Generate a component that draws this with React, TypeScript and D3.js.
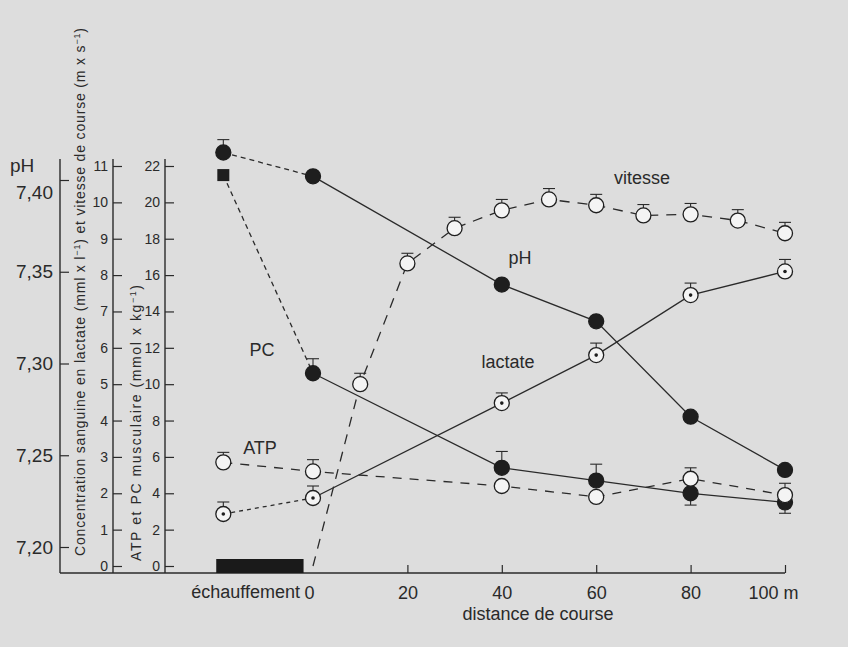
import * as React from 'react'
import * as d3 from 'd3'

// warm-up column sits left of 0 on the distance scale
const WARMUP = -19

const mainDistances = [WARMUP, 0, 40, 60, 80, 100]
const speedDistances = [0, 10, 20, 30, 40, 50, 60, 70, 80, 90, 100]

const phValues = [7.415, 7.402, 7.343, 7.323, 7.271, 7.242]
const phErrUp = [0.007, 0, 0, 0, 0, 0]

const pcValues = [21.5, 10.6, 5.4, 4.7, 4.0, 3.5]
const pcErrUp = [0, 0.8, 0.9, 0.9, 0, 0]
const pcErrDown = [0, 0, 0, 0, 0.65, 0.6]

const atpValues = [5.7, 5.2, 4.4, 3.8, 4.8, 3.9]
const atpErrUp = [0.55, 0.65, 0, 0, 0.6, 0.65]

const lactateValues = [1.43, 1.87, 4.48, 5.8, 7.45, 8.1]
const lactateErrUp = [0.33, 0.33, 0.28, 0.33, 0.33, 0.33]

const speedValues = [0, 5.0, 8.32, 9.29, 9.78, 10.08, 9.92, 9.64, 9.67, 9.5, 9.15]
const speedErrUp = [0, 0.3, 0.28, 0.3, 0.3, 0.3, 0.3, 0.3, 0.3, 0.3, 0.3]

const phTicks = [7.2, 7.25, 7.3, 7.35, 7.4]
const lactateTicks = [0, 1, 2, 3, 4, 5, 6, 7, 8, 9, 10, 11]
const muscleTicks = [0, 2, 4, 6, 8, 10, 12, 14, 16, 18, 20, 22]
const distanceTicks = [0, 20, 40, 60, 80, 100]

const W = 848
const H = 647
const FONT = '"Liberation Sans", Arial, sans-serif'
const INK = '#2a2a2a'

const x = d3.scaleLinear().domain([0, 100]).range([313, 785])
const yPH = d3.scaleLinear().domain([7.2, 7.4]).range([547, 180])
const yLac = d3.scaleLinear().domain([0, 11]).range([566, 166])
const yMus = d3.scaleLinear().domain([0, 22]).range([566, 166])
const baseY = 573
const topY = 159

type Sel = d3.Selection<SVGGElement, unknown, null, undefined>

function drawLine(g: Sel, xs: number[], vs: number[], y: d3.ScaleLinear<number, number>, dash: string | null) {
	const line = d3.line<number>().x((_, i) => x(xs[i])).y(v => y(v))
	g.append('path')
		.attr('d', line(vs))
		.attr('fill', 'none')
		.attr('stroke', INK)
		.attr('stroke-width', 1.3)
		.attr('stroke-dasharray', dash)
}

function drawErrors(g: Sel, xs: number[], vs: number[], errs: number[], y: d3.ScaleLinear<number, number>, sign: number) {
	vs.forEach((v, i) => {
		if (!errs[i]) return
		const cx = x(xs[i])
		const ye = y(v + sign * errs[i])
		g.append('line').attr('x1', cx).attr('x2', cx).attr('y1', y(v)).attr('y2', ye)
			.attr('stroke', INK).attr('stroke-width', 1.1)
		g.append('line').attr('x1', cx - 6).attr('x2', cx + 6).attr('y1', ye).attr('y2', ye)
			.attr('stroke', INK).attr('stroke-width', 1.1)
	})
}

function drawMarkers(g: Sel, xs: number[], vs: number[], y: d3.ScaleLinear<number, number>, kind: string, skip: number[] = []) {
	vs.forEach((v, i) => {
		if (skip.includes(i)) return
		const cx = x(xs[i])
		const cy = y(v)
		if (kind === 'square') {
			g.append('rect').attr('x', cx - 6).attr('y', cy - 6).attr('width', 12).attr('height', 12).attr('fill', '#1e1e1e')
			return
		}
		g.append('circle').attr('cx', cx).attr('cy', cy).attr('r', 7.5)
			.attr('fill', kind === 'filled' ? '#1e1e1e' : '#f4f4f4')
			.attr('stroke', '#1e1e1e').attr('stroke-width', 1.3)
		if (kind === 'dot') g.append('circle').attr('cx', cx).attr('cy', cy).attr('r', 1.8).attr('fill', '#1e1e1e')
	})
}

function drawChart(svgEl: SVGSVGElement) {
	const svg = d3.select(svgEl)
	svg.selectAll('*').remove()
	svg.append('rect').attr('width', W).attr('height', H).attr('fill', '#dddddd')

	const root = svg.append('g').attr('font-family', FONT).attr('fill', INK) as unknown as Sel

	// left axes
	const axisStyle = (g: Sel, size: number) => {
		g.select('.domain').remove()
		g.selectAll('line').attr('stroke', INK).attr('stroke-width', 1.2)
		g.selectAll('text').attr('font-size', size).attr('fill', INK).attr('font-family', FONT)
	}
	const phAxis = root.append('g').attr('transform', 'translate(60,0)')
		.call(d3.axisLeft(yPH).tickValues(phTicks).tickSizeInner(-9).tickSizeOuter(0).tickPadding(7)
			.tickFormat(d => d3.format('.2f')(d as number).replace('.', ',')))
	axisStyle(phAxis, 19)
	// the top pH label sits a little under its tick, below the "pH" title
	phAxis.selectAll<SVGGElement, number>('.tick').filter(d => d === 7.4).select('text').attr('y', 12)
	const lacAxis = root.append('g').attr('transform', 'translate(113,0)')
		.call(d3.axisLeft(yLac).tickValues(lactateTicks).tickSizeInner(-9).tickSizeOuter(0).tickPadding(5))
	axisStyle(lacAxis, 14)
	const musAxis = root.append('g').attr('transform', 'translate(165,0)')
		.call(d3.axisLeft(yMus).tickValues(muscleTicks).tickSizeInner(-9).tickSizeOuter(0).tickPadding(5))
	axisStyle(musAxis, 14)
	;[60, 113, 165].forEach(ax => {
		root.append('line').attr('x1', ax).attr('x2', ax).attr('y1', topY).attr('y2', baseY)
			.attr('stroke', INK).attr('stroke-width', 1.4)
	})
	root.append('text').attr('x', 10).attr('y', 172).attr('font-size', 19).text('pH')

	// vertical titles
	const t1 = root.append('text')
		.attr('transform', 'translate(80,292) rotate(-90)')
		.attr('text-anchor', 'middle').attr('dy', '0.35em').attr('font-size', 14)
		.attr('textLength', 528).attr('lengthAdjust', 'spacing')
	t1.append('tspan').text('Concentration sanguine en lactate (mml x l')
	t1.append('tspan').attr('dy', -5).attr('font-size', 9).text('−1')
	t1.append('tspan').attr('dy', 5).text(') et vitesse de course (m x s')
	t1.append('tspan').attr('dy', -5).attr('font-size', 9).text('−1')
	t1.append('tspan').attr('dy', 5).text(')')

	const t2 = root.append('text')
		.attr('transform', 'translate(136,423) rotate(-90)')
		.attr('text-anchor', 'middle').attr('dy', '0.35em').attr('font-size', 14)
		.attr('textLength', 276).attr('lengthAdjust', 'spacing')
	t2.append('tspan').text('ATP et PC musculaire (mmol x kg')
	t2.append('tspan').attr('dy', -5).attr('font-size', 9).text('−1')
	t2.append('tspan').attr('dy', 5).text(')')

	// x axis
	const xAxis = root.append('g').attr('transform', `translate(0,${baseY})`)
		.call(d3.axisBottom(x).tickValues(distanceTicks).tickSizeInner(-8).tickSizeOuter(0).tickPadding(13)
			.tickFormat(d => (d === 100 ? '100 m' : String(d))))
	axisStyle(xAxis, 18)
	xAxis.selectAll<SVGGElement, number>('.tick').filter(d => d === 0).select('line').remove()
	xAxis.selectAll<SVGGElement, number>('.tick').filter(d => d === 0).select('text').attr('dx', -4)
	xAxis.selectAll<SVGGElement, number>('.tick').filter(d => d === 100).select('text').attr('dx', -12)
	root.append('line').attr('x1', 60).attr('x2', x(100)).attr('y1', baseY).attr('y2', baseY)
		.attr('stroke', INK).attr('stroke-width', 1.4)
	root.append('text').attr('x', x(0) - 13).attr('y', baseY + 25).attr('text-anchor', 'end')
		.attr('font-size', 18).text('échauffement')
	root.append('text').attr('x', 538).attr('y', 620).attr('text-anchor', 'middle')
		.attr('font-size', 18).text('distance de course')

	// warm-up bar
	root.append('rect').attr('x', x(-20.5)).attr('y', baseY - 14)
		.attr('width', x(-2) - x(-20.5)).attr('height', 14).attr('fill', '#1a1a1a')

	// lines
	const lines = root.append('g') as unknown as Sel
	drawLine(lines, speedDistances, speedValues, yLac, '10,8')
	drawLine(lines, mainDistances, atpValues, yMus, '9,8')
	drawLine(lines, mainDistances.slice(0, 2), lactateValues.slice(0, 2), yLac, '4,4')
	drawLine(lines, mainDistances.slice(1), lactateValues.slice(1), yLac, null)
	drawLine(lines, mainDistances.slice(0, 2), pcValues.slice(0, 2), yMus, '5,4')
	drawLine(lines, mainDistances.slice(1), pcValues.slice(1), yMus, null)
	drawLine(lines, mainDistances.slice(0, 2), phValues.slice(0, 2), yPH, '5,4')
	drawLine(lines, mainDistances.slice(1), phValues.slice(1), yPH, null)

	// error bars
	const errs = root.append('g') as unknown as Sel
	drawErrors(errs, speedDistances, speedValues, speedErrUp, yLac, 1)
	drawErrors(errs, mainDistances, atpValues, atpErrUp, yMus, 1)
	drawErrors(errs, mainDistances, lactateValues, lactateErrUp, yLac, 1)
	drawErrors(errs, mainDistances, pcValues, pcErrUp, yMus, 1)
	drawErrors(errs, mainDistances, pcValues, pcErrDown, yMus, -1)
	drawErrors(errs, mainDistances, phValues, phErrUp, yPH, 1)

	// markers
	const marks = root.append('g') as unknown as Sel
	drawMarkers(marks, speedDistances, speedValues, yLac, 'open', [0])
	drawMarkers(marks, mainDistances, lactateValues, yLac, 'dot')
	drawMarkers(marks, mainDistances.slice(0, 1), pcValues.slice(0, 1), yMus, 'square')
	drawMarkers(marks, mainDistances.slice(1), pcValues.slice(1), yMus, 'filled')
	drawMarkers(marks, mainDistances, phValues, yPH, 'filled')
	drawMarkers(marks, mainDistances, atpValues, yMus, 'open')

	// series labels
	const labels: [string, number, number][] = [
		['vitesse', 642, 184], ['pH', 520, 264], ['lactate', 508, 368], ['PC', 262, 356], ['ATP', 260, 454],
	]
	labels.forEach(([t, lx, ly]) => {
		root.append('text').attr('x', lx).attr('y', ly).attr('text-anchor', 'middle').attr('font-size', 18).text(t)
	})
}

const App: React.FC = () => {
	const svgRef = React.useRef<SVGSVGElement>(null)

	React.useEffect(() => {
		if (svgRef.current) drawChart(svgRef.current)
	}, [])

	return (
		<svg ref={svgRef} width={W} height={H} style={{ position: 'absolute', left: 0, top: 0 }} />
	)
}

export default App
